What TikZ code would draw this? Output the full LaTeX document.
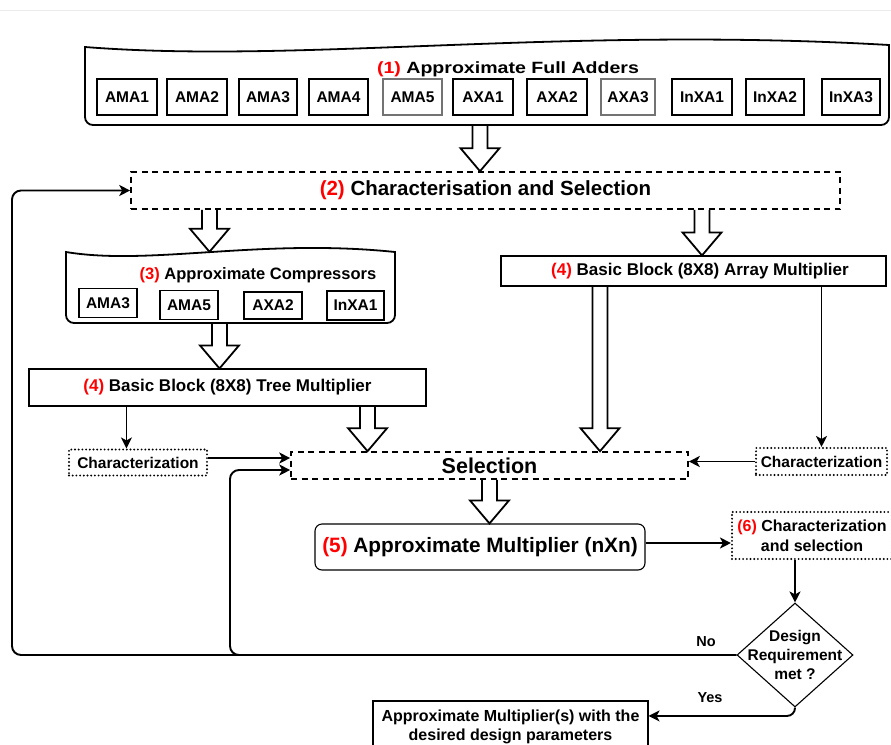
\documentclass[tikz,border=0pt]{standalone}
\usepackage{fontspec}
\setmainfont{Liberation Sans}
\newfontfamily\widesans{Liberation Sans}[FakeStretch=1.2]
\usetikzlibrary{arrows.meta,shapes.geometric,calc}

\definecolor{numred}{RGB}{255,0,0}
\newcommand\stepno[1]{\textcolor{numred}{#1}}
\newcommand\txtsize[2]{\fontsize{#1}{#2}\selectfont}

% hollow block arrow pointing down: x and top taken from #1, tip height from #2
\newcommand\hollowarrow[2]{%
  \draw[fatarrow] let \p1=#1, \p2=#2 in
    (\x1-7.5pt,\y1) -- (\x1-7.5pt,\y2+23pt) -- (\x1-19.5pt,\y2+23pt) -- (\x1,\y2)
    -- (\x1+19.5pt,\y2+23pt) -- (\x1+7.5pt,\y2+23pt) -- (\x1+7.5pt,\y1);}

\tikzset{
  box/.style={draw, line width=1.1pt, inner sep=0pt, font=\bfseries},
  cell/.style={box, minimum height=36, font=\bfseries\txtsize{15.5}{18}},
  ccell/.style={box, minimum height=29, minimum width=58, font=\bfseries\txtsize{15.5}{18}},
  dashbox/.style={draw, line width=1.6pt, dash pattern=on 6pt off 4.5pt, inner sep=0pt},
  dotbox/.style={draw, line width=2.1pt, dash pattern=on 0pt off 3.7pt, line cap=round, inner sep=0pt},
  conn/.style={line width=1.9pt, -{Stealth[length=11pt,width=11pt,inset=3pt]}},
  fatarrow/.style={line width=1.8pt, line join=miter},
  wavy/.style={line width=1.8pt},
  lbl/.style={font=\bfseries\txtsize{14.5}{17}, inner sep=0pt},
}

\begin{document}
\begin{tikzpicture}[x=1pt,y=-1pt]
\useasboundingbox (0,0) rectangle (891,744);
\clip (0,0) rectangle (891,744);
\fill[white] (0,0) rectangle (891,744);
\draw[black!8, line width=1pt] (0,10) -- (891,10);

% (1) approximate full adders: wavy-topped container
\draw[wavy] (85,47) .. controls (300,64) and (560,26) .. (889,45)
  -- (889,117) to[out=-90,in=0] (881,125) -- (93,125) to[out=180,in=-90] (85,117) -- cycle;
\node (fa) at (487,86) [minimum width=804, minimum height=78, inner sep=0pt] {};
\node (t1) at (508,69) [font=\widesans\bfseries\txtsize{16.3}{19}, inner sep=0pt]
  {\stepno{(1)} Approximate Full Adders};
\node[cell, minimum width=60] (f1) at (127,97) {AMA1};
\node[cell, minimum width=60] (f2) at (197,97) {AMA2};
\node[cell, minimum width=58] (f3) at (268,97) {AMA3};
\node[cell, minimum width=59] (f4) at (338.5,97) {AMA4};
\node[cell, minimum width=59, draw=black!55] (f5) at (412.5,97) {AMA5};
\node[cell, minimum width=60] (f6) at (483,97) {AXA1};
\node[cell, minimum width=60] (f7) at (557,97) {AXA2};
\node[cell, minimum width=54, draw=black!55] (f8) at (628,97) {AXA3};
\node[cell, minimum width=60] (f9) at (702,97) {InXA1};
\node[cell, minimum width=58] (f10) at (775,97) {InXA2};
\node[cell, minimum width=58] (f11) at (851,97) {InXA3};

% (2) characterisation and selection
\node[dashbox, minimum width=709, minimum height=37, font=\bfseries\txtsize{20.5}{24}] (c2) at (485.5,190.5)
  {\stepno{(2)} Characterisation and Selection};

% (3) approximate compressors: wavy-topped container
\draw[wavy] (66,252) .. controls (150,266) and (260,238) .. (395,252)
  -- (395,315) to[out=-90,in=0] (387,323) -- (74,323) to[out=180,in=-90] (66,315) -- cycle;
\node (ac) at (230.5,287.5) [minimum width=329, minimum height=71, inner sep=0pt] {};
\node (t3) at (258,275) [font=\bfseries\txtsize{16.5}{19}, inner sep=0pt] {\stepno{(3)} Approximate Compressors};
\node[ccell] (k1) at (108,303) {AMA3};
\node[ccell] (k2) at (189,305) {AMA5};
\node[ccell, minimum height=27] (k3) at (273,305.5) {AXA2};
\node[ccell, minimum width=57] (k4) at (355.5,305.5) {InXA1};

% (4) basic blocks
\node[box, minimum width=397, minimum height=37, font=\bfseries\txtsize{17}{20}] (tm) at (227.5,387.5)
  {\stepno{(4)} Basic Block (8X8) Tree Multiplier};
\node[box, minimum width=385, minimum height=30, font=\bfseries\txtsize{17}{20}] (am) at (693.5,271)
  {\hspace{13pt}\stepno{(4)} Basic Block (8X8) Array Multiplier};

% characterization and selection stage
\node[dotbox, minimum width=138, minimum height=26, font=\bfseries\txtsize{15.5}{18}] (chl) at (138,462.5) {Characterization};
\node[dashbox, minimum width=397, minimum height=27, font=\bfseries\txtsize{21.5}{24}] (sel) at (489.5,465.5) {Selection};
\node[dotbox, minimum width=131, minimum height=27, font=\bfseries\txtsize{15.5}{18}] (chr) at (821.5,461.5) {Characterization};

% (5) and (6)
\node[box, rounded corners=7pt, minimum width=330, minimum height=46, font=\bfseries\txtsize{20.8}{24}] (m5) at (480,547)
  {\stepno{(5)} Approximate Multiplier (nXn)};
\node[dotbox, minimum width=160, minimum height=47, align=center, font=\bfseries\txtsize{16}{20}] (c6) at (812,535.5)
  {\stepno{(6)} Characterization\\and selection};

% decision
\node[draw, diamond, line width=1.1pt, aspect=1.115, minimum width=116, minimum height=104, inner sep=0pt] (dm) at (795,655) {};
\node[align=center, font=\bfseries\txtsize{15.5}{19}, inner sep=0pt] (dmt) at (dm) {Design\\Requirement\\met ?};

% result
\node[box, minimum width=275, minimum height=52, align=center, font=\bfseries\txtsize{16}{19}] (fin) at (510.5,727)
  {Approximate Multiplier(s) with the\\desired design parameters};

% block arrows
\hollowarrow{($(fa.south)+(-7,0)$)}{(c2.north)}
\hollowarrow{($(c2.south -| ac.north)+(-21,0)$)}{(ac.north)}
\hollowarrow{($(c2.south -| am.north)+(8.5,0)$)}{(am.north)}
\hollowarrow{($(ac.south)+(-11,0)$)}{(tm.north)}
\hollowarrow{($(tm.south east)+(-59,0)$)}{(sel.north)}
\hollowarrow{($(am.south)+(-93.5,0)$)}{(sel.north)}
\hollowarrow{(sel.south)}{(m5.north)}

% plain connectors
\draw[conn] ($(tm.south west)+(98,0)$) coordinate (tmo) -- (tmo |- chl.north);
\draw[conn] (am.south -| chr.north) -- (chr.north);
\draw[conn] ($(chl.east)+(0,-4.5)$) coordinate (chlo) -- (chlo -| sel.west);
\draw[conn] (chr.west) -- (chr.west -| sel.east);
\draw[conn] ($(m5.east)+(0,-4)$) coordinate (m5o) -- (m5o -| c6.west);
\draw[conn] (c6.south -| dm.north) -- (dm.north);

% feedback loops
\coordinate (loopA) at (12,655);
\coordinate (loopB) at (230,655);
\draw[conn, rounded corners=9pt] (dm.west) -- (loopA) |- (c2.west);
\draw[conn, rounded corners=9pt] (dm.west) -- (loopB) |- ($(sel.west)+(0,4.5)$);
\draw[conn, rounded corners=8pt] (dm.south) |- ($(fin.north east)+(0,15.5)$);

\node[lbl] (no) at (706,642) {No};
\node[lbl] (yes) at (710,698) {Yes};
\end{tikzpicture}
\end{document}
